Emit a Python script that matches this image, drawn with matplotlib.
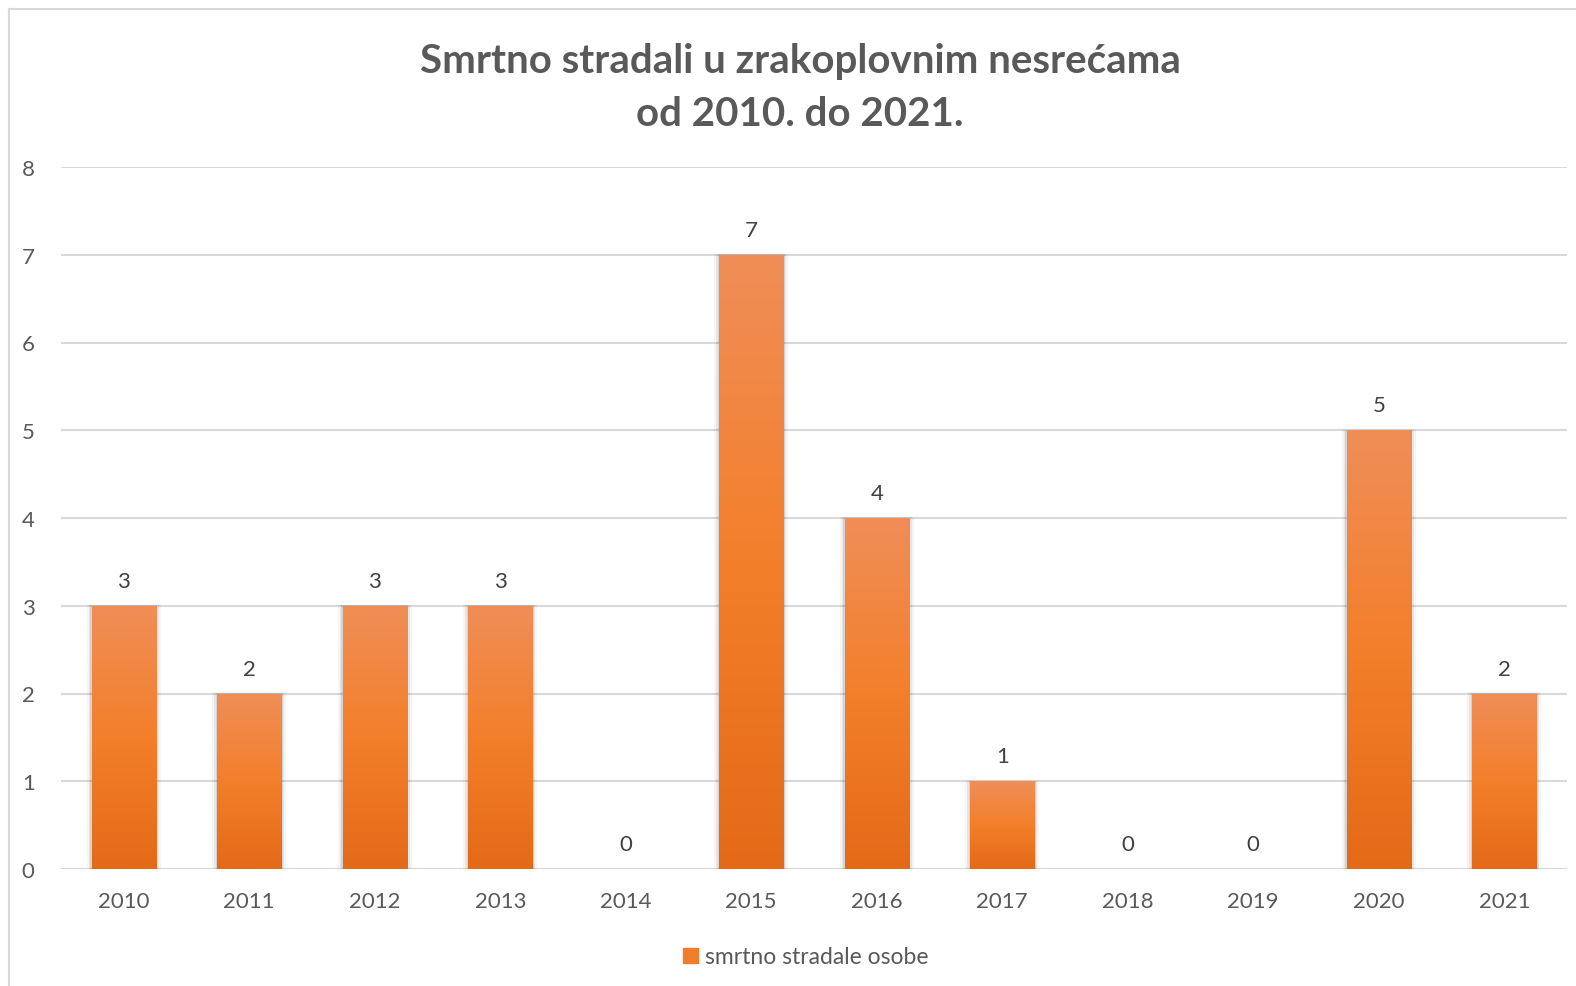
import matplotlib
matplotlib.use('Agg')
import matplotlib.pyplot as plt
import numpy as np
from matplotlib.colors import LinearSegmentedColormap
from matplotlib.patches import Rectangle
from matplotlib.lines import Line2D

godine = ['2010', '2011', '2012', '2013', '2014', '2015',
          '2016', '2017', '2018', '2019', '2020', '2021']
stradali = [3, 2, 3, 3, 0, 7, 4, 1, 0, 0, 5, 2]
naslov = 'Smrtno stradali u zrakoplovnim nesrećama\nod 2010. do 2021.'
legenda = 'smrtno stradale osobe'

plt.rcParams['font.family'] = ['Lato', 'DejaVu Sans']
siva = '#595959'

fig = plt.figure(figsize=(15.76, 9.87), dpi=100)
W, H = 1576, 987
ax = fig.add_axes([61 / W, 1 - 870 / H, (1567 - 61) / W, (870 - 168) / H])

# okvir grafikona
fig.add_artist(Line2D([9 / W, 9 / W], [0, 1 - 10 / H], color='#D9D9D9', lw=1.5))
fig.add_artist(Line2D([9 / W, 1], [1 - 10 / H, 1 - 10 / H], color='#D9D9D9', lw=1.5))

# gradijent (dolje tamnije, gore svjetlije)
cmap = LinearSegmentedColormap.from_list('nar', ['#E46A18', '#F37F2A', '#F08E58'])
grad = np.linspace(0, 1, 256).reshape(-1, 1)

x = np.arange(len(godine))
sirina = 0.51
bars = ax.bar(x, stradali, width=sirina, color='none', zorder=3)
for b, v in zip(bars, stradali):
    if v == 0:
        continue
    x0 = b.get_x()
    # blaga sjena
    for k, a in [(0.04, 0.04), (0.025, 0.06), (0.012, 0.08)]:
        ax.add_patch(Rectangle((x0 - k, -0.015), sirina + 2 * k, v + 0.015 + k * 0.3,
                               color='black', alpha=a, lw=0, zorder=2))
    im = ax.imshow(grad, cmap=cmap, origin='lower', aspect='auto',
                   extent=[x0, x0 + sirina, 0, v], zorder=3)
    im.set_clip_path(b)

for xi, v in zip(x, stradali):
    ax.text(xi, v + 0.17, str(v), ha='center', va='bottom', fontsize=16, color='#404040')

ax.set_xlim(-0.5, 11.5)
ax.set_ylim(0, 8)
ax.set_yticks(range(0, 9))
ax.set_xticks(x)
ax.set_xticklabels(godine)
ax.tick_params(axis='both', length=0, labelsize=16, labelcolor=siva)
ax.tick_params(axis='x', pad=16)
ax.tick_params(axis='y', pad=19)
ax.grid(axis='y', color='#D9D9D9', lw=1.5, zorder=0)
ax.set_axisbelow(True)
for s in ax.spines.values():
    s.set_visible(False)

fig.text(800 / W, 1 - 88 / H, naslov, ha='center', va='center', fontsize=29,
         fontweight='bold', color=siva, linespacing=1.55)

handle = Rectangle((0, 0), 1, 1, color='#F07C2E')
fig.legend([handle], [legenda], loc='center', bbox_to_anchor=(806 / W, 1 - 958 / H),
           frameon=False, fontsize=16.5, labelcolor=siva, handlelength=0.65,
           handleheight=0.65, handletextpad=0.3)

fig.savefig('out.png', dpi=100, facecolor='white')
